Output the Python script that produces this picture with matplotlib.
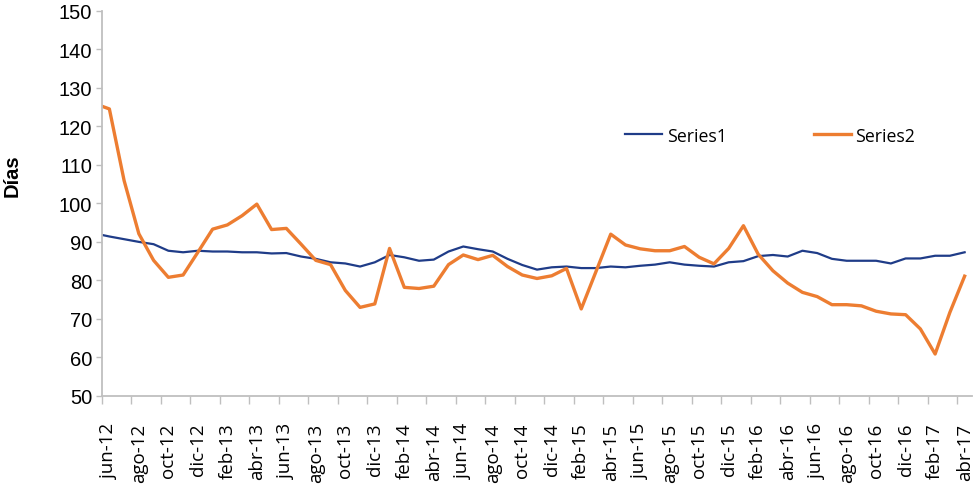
import matplotlib
matplotlib.use("Agg")
import matplotlib.pyplot as plt
import numpy as np

# Months (first entry lies just outside the visible axis range and is clipped)
months = ["may-12",
          "jun-12", "jul-12", "ago-12", "sep-12", "oct-12", "nov-12", "dic-12",
          "ene-13", "feb-13", "mar-13", "abr-13", "may-13", "jun-13", "jul-13",
          "ago-13", "sep-13", "oct-13", "nov-13", "dic-13",
          "ene-14", "feb-14", "mar-14", "abr-14", "may-14", "jun-14", "jul-14",
          "ago-14", "sep-14", "oct-14", "nov-14", "dic-14",
          "ene-15", "feb-15", "mar-15", "abr-15", "may-15", "jun-15", "jul-15",
          "ago-15", "sep-15", "oct-15", "nov-15", "dic-15",
          "ene-16", "feb-16", "mar-16", "abr-16", "may-16", "jun-16", "jul-16",
          "ago-16", "sep-16", "oct-16", "nov-16", "dic-16",
          "ene-17", "feb-17", "mar-17", "abr-17"]

series1 = [92.2,
           91.4, 90.7, 90.0, 89.4, 87.7, 87.3, 87.7, 87.5, 87.5, 87.3,
           87.3, 87.0, 87.1, 86.2, 85.6, 84.7, 84.4, 83.6, 84.7, 86.6,
           86.0, 85.1, 85.4, 87.5, 88.8, 88.1, 87.5, 85.6, 84.0, 82.8,
           83.4, 83.6, 83.2, 83.2, 83.6, 83.4, 83.8, 84.1, 84.7, 84.1,
           83.8, 83.6, 84.7, 85.0, 86.3, 86.6, 86.2, 87.7, 87.1, 85.6,
           85.1, 85.1, 85.1, 84.4, 85.7, 85.7, 86.4, 86.4, 87.3]

series2 = [125.9,
           124.5, 105.9, 92.1, 85.2, 80.8, 81.4, 87.3, 93.3, 94.4, 96.8,
           99.8, 93.2, 93.5, 89.4, 85.2, 84.1, 77.4, 73.0, 73.9, 88.3,
           78.2, 77.9, 78.5, 84.1, 86.6, 85.4, 86.5, 83.6, 81.4, 80.5,
           81.2, 83.1, 72.6, 82.3, 92.0, 89.2, 88.2, 87.7, 87.7, 88.8,
           86.0, 84.3, 88.3, 94.2, 86.8, 82.5, 79.3, 76.9, 75.8, 73.7,
           73.7, 73.4, 72.0, 71.3, 71.1, 67.4, 60.9, 71.7, 81.1]

series_names = ["Series1", "Series2"]
y_label = "Días"
y_ticks = list(range(50, 151, 10))

first_shown = 1  # index of jun-12
x = np.arange(len(months)) - first_shown
n_shown = len(months) - first_shown

fig = plt.figure(figsize=(9.75, 4.89), dpi=100)
ax = fig.add_axes([102 / 975, 1 - 397 / 489, 870 / 975, (397 - 11.7) / 489])

ax.plot(x, series1, color="#1F3C88", lw=1.6, label=series_names[0], solid_joinstyle="round")
ax.plot(x, series2, color="#ED7D31", lw=2.4, label=series_names[1], solid_joinstyle="round")

ax.set_xlim(-0.5, n_shown - 0.5)
ax.set_ylim(50, 150)

# y axis
ax.set_yticks(y_ticks)
ax.set_yticklabels([str(v) for v in y_ticks], fontfamily="Liberation Sans", fontsize=14.5)
ax.tick_params(axis="y", which="major", length=4, width=1, color="#BFBFBF", pad=3)

# x axis: labels every two months, tick marks between categories
label_pos = np.arange(0, n_shown, 2)
ax.set_xticks(label_pos)
ax.set_xticklabels([months[p + first_shown] for p in label_pos], rotation=90,
                   fontfamily="Open Sans", fontsize=13.5, va="top", ha="center")
ax.tick_params(axis="x", which="major", length=0, pad=19)
ax.set_xticks(np.arange(-0.5, n_shown - 1, 2), minor=True)
ax.tick_params(axis="x", which="minor", length=6, width=1, color="#BFBFBF")

for s in ["top", "right"]:
    ax.spines[s].set_visible(False)
for s in ["left", "bottom"]:
    ax.spines[s].set_color("#BFBFBF")
    ax.spines[s].set_linewidth(1.3)

ax.set_ylabel(y_label, fontfamily="Liberation Sans", fontweight="bold", fontsize=14.5)
ax.yaxis.set_label_coords(-0.092, 0.574)

leg = ax.legend(loc="center left", bbox_to_anchor=(0.601, 0.676), ncol=2, frameon=False,
                prop={"family": "Open Sans", "size": 12.8}, handlelength=2.1,
                handletextpad=0.25, columnspacing=4.9, borderpad=0, borderaxespad=0)

fig.savefig("out.png", dpi=100)
